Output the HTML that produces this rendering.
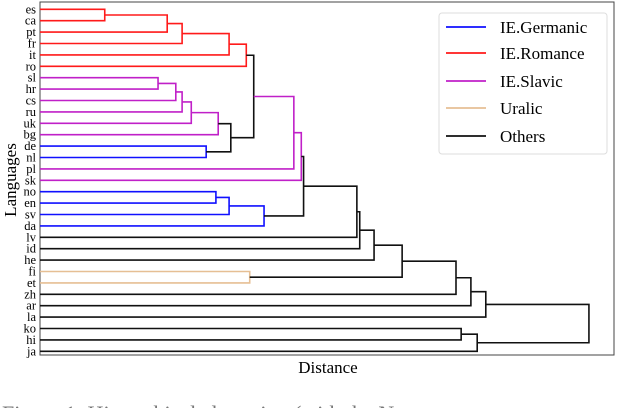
<!DOCTYPE html>
<html><head><meta charset="utf-8"><style>
html,body{margin:0;padding:0;background:#fff;width:618px;height:408px;overflow:hidden}
text{font-family:"Liberation Serif",serif}
</style></head><body>
<svg id="chart" width="618" height="408" xmlns="http://www.w3.org/2000/svg">
<rect x="40" y="2" width="574" height="353" fill="none" stroke="#444" stroke-width="1"/>
<g id="links"></g>
<g id="ticks"></g>
<text transform="translate(16,180) rotate(-90)" text-anchor="middle" font-size="17">Languages</text>
<text x="328" y="373" text-anchor="middle" font-size="17">Distance</text>
<g>
<rect x="439" y="13" width="168" height="141" rx="3" fill="#fff" stroke="#ddd"/>
<g id="legend"></g>
</g>
<text x="2" y="421" font-size="22" fill="#777">Figure 1:  Hierarchical clustering (with the N</text>
</svg>
<script>
const leaves = ["es","ca","pt","fr","it","ro","sl","hr","cs","ru","uk","bg","de","nl","pl","sk","no","en","sv","da","lv","id","he","fi","et","zh","ar","la","ko","hi","ja"];
const mergeLeft  = [0,31,32,33,34, 6,36,37,38,39, 12,40,35,43,44, 16,46,47,45,49,50,51, 23,52,54,55,56, 28,58,57];
const mergeRight = [1, 2, 3, 4, 5, 7, 8, 9,10,11, 13,41,42,14,15, 17,18,19,48,20,21,22, 24,53,25,26,27, 29,30,59];
const mergeDist  = [11.3,22.2,24.8,33.0,36.0, 20.6,23.7,24.8,26.4,31.1, 29.0,33.3,37.3,44.3,45.6, 30.7,33.0,39.1,46.0,55.3,55.8,58.3, 36.6,63.2,72.6,75.2,77.8, 73.5,76.3,95.8];
const mergeGroup = ["R","R","R","R","R","S","S","S","S","S","G","K","K","S","S","G","G","G","K","K","K","K","U","K","K","K","K","K","K","K"];
const groupNames = ["IE.Germanic","IE.Romance","IE.Slavic","Uralic","Others"];
const groupKeys = ["G","R","S","U","K"];
const colors = {G:"#1010ff",R:"#ff1a1a",S:"#c020c8",U:"#e6bf94",K:"#111"};
const ns="http://www.w3.org/2000/svg";
const xScale = d => 40 + d*5.73;
const yScale = i => 9.3 + i*11.4;
const nodeX = {}, nodeY = {};
leaves.forEach((l,i)=>{nodeX[i]=40; nodeY[i]=yScale(i);});
const links=document.getElementById('links');
mergeLeft.forEach((a,k)=>{
  const b=mergeRight[k], id=leaves.length+k, x=xScale(mergeDist[k]);
  const p=document.createElementNS(ns,'path');
  p.setAttribute('d',`M${nodeX[a]},${nodeY[a]}H${x}V${nodeY[b]}H${nodeX[b]}`);
  p.setAttribute('fill','none');p.setAttribute('stroke',colors[mergeGroup[k]]);p.setAttribute('stroke-width','1.6');
  
  
  links.appendChild(p);
  nodeX[id]=x; nodeY[id]=(nodeY[a]+nodeY[b])/2;
});
const ticks=document.getElementById('ticks');
leaves.forEach((l,i)=>{
  const t=document.createElementNS(ns,'text');
  t.setAttribute('x',36);t.setAttribute('y',yScale(i)+4);t.setAttribute('text-anchor','end');t.setAttribute('font-size','12.5');
  t.textContent=l;
  
  
  ticks.appendChild(t);
});
const lg=document.getElementById('legend');
const legY=[27,53,81,108,136];
groupNames.forEach((n,i)=>{
  const ln=document.createElementNS(ns,'line');
  ln.setAttribute('x1',446);ln.setAttribute('x2',486);ln.setAttribute('y1',legY[i]);ln.setAttribute('y2',legY[i]);
  ln.setAttribute('stroke',colors[groupKeys[i]]);ln.setAttribute('stroke-width','1.8');
  
  
  lg.appendChild(ln);
  const t=document.createElementNS(ns,'text');
  t.setAttribute('x',500);t.setAttribute('y',legY[i]+6);t.setAttribute('font-size','17');
  t.textContent=n;
  
  
  lg.appendChild(t);
});
</script>
</body></html>
